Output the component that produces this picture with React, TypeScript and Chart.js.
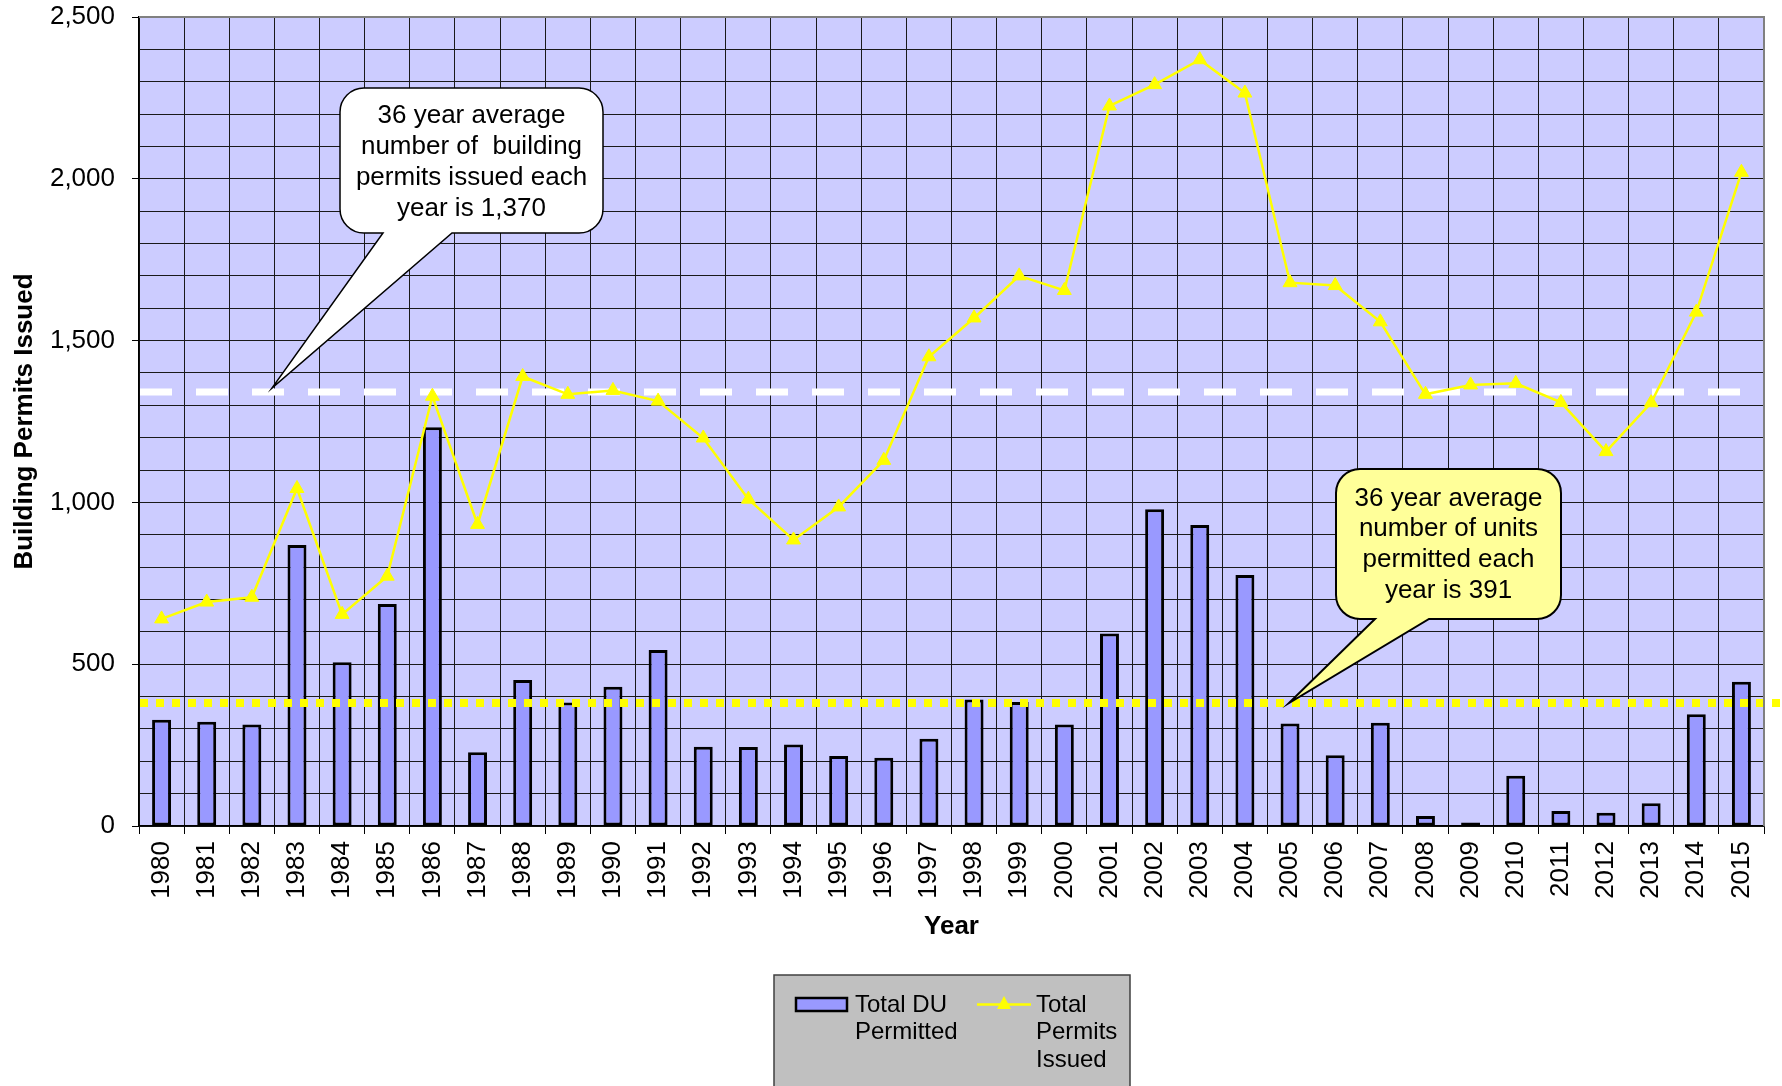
import React, { useEffect, useRef } from "react";
import { Chart, registerables } from "chart.js";

Chart.register(...registerables);

const FONT = "'Liberation Sans', Arial, Helvetica, sans-serif";

const years = [
  "1980", "1981", "1982", "1983", "1984", "1985", "1986", "1987", "1988", "1989",
  "1990", "1991", "1992", "1993", "1994", "1995", "1996", "1997", "1998", "1999",
  "2000", "2001", "2002", "2003", "2004", "2005", "2006", "2007", "2008", "2009",
  "2010", "2011", "2012", "2013", "2014", "2015",
];

const totalDUPermitted = [
  328, 322, 314, 868, 506, 686, 1232, 228, 451, 382,
  430, 544, 245, 244, 252, 216, 211, 270, 391, 383,
  314, 595, 979, 930, 776, 317, 219, 319, 31, 11,
  155, 46, 41, 70, 345, 446,
];

const totalPermitsIssued = [
  640, 692, 707, 1043, 654, 772, 1328, 932, 1389, 1334,
  1346, 1313, 1199, 1010, 884, 986, 1130, 1450, 1570, 1700,
  1655, 2225, 2291, 2368, 2265, 1679, 1670, 1558, 1334, 1363,
  1368, 1309, 1157, 1308, 1588, 2020,
];

const yTickLabels = ["0", "500", "1,000", "1,500", "2,000", "2,500"];

const permitsAverageLine = 1340;
const unitsAverageLine = 380;

const permitsCalloutText = [
  "36 year average",
  "number of  building",
  "permits issued each",
  "year is 1,370",
];
const unitsCalloutText = [
  "36 year average",
  "number of units",
  "permitted each",
  "year is 391",
];
const legendBarText = ["Total DU", "Permitted"];
const legendLineText = ["Total", "Permits", "Issued"];

function calloutPath(
  ctx: CanvasRenderingContext2D,
  x: number, y: number, w: number, h: number, r: number,
  t1: number, t2: number, tipX: number, tipY: number
) {
  ctx.beginPath();
  ctx.moveTo(x + r, y);
  ctx.lineTo(x + w - r, y);
  ctx.arcTo(x + w, y, x + w, y + r, r);
  ctx.lineTo(x + w, y + h - r);
  ctx.arcTo(x + w, y + h, x + w - r, y + h, r);
  ctx.lineTo(t2, y + h);
  ctx.lineTo(tipX, tipY);
  ctx.lineTo(t1, y + h);
  ctx.lineTo(x + r, y + h);
  ctx.arcTo(x, y + h, x, y + h - r, r);
  ctx.lineTo(x, y + r);
  ctx.arcTo(x, y, x + r, y, r);
  ctx.closePath();
}

const decorPlugin = {
  id: "decor",
  beforeDraw(chart: any) {
    const { ctx, chartArea: a } = chart;
    ctx.save();
    ctx.fillStyle = "#CCCCFF";
    ctx.fillRect(a.left, a.top, a.right - a.left, a.bottom - a.top);
    ctx.restore();
  },
  afterDatasetDraw(chart: any, args: any) {
    if (args.index !== 1) return;
    const { ctx, chartArea: a } = chart;
    const ys = chart.scales.y;
    ctx.save();
    ctx.lineCap = "butt";
    const yp = Math.round(ys.getPixelForValue(permitsAverageLine));
    ctx.setLineDash([32, 24]);
    ctx.strokeStyle = "#FFFFFF";
    ctx.lineWidth = 7;
    ctx.beginPath();
    ctx.moveTo(a.left + 1, yp);
    ctx.lineTo(chart.width, yp);
    ctx.stroke();
    const yu = Math.round(ys.getPixelForValue(unitsAverageLine));
    ctx.setLineDash([8, 8]);
    ctx.strokeStyle = "#FFFF00";
    ctx.lineWidth = 8;
    ctx.beginPath();
    ctx.moveTo(a.left + 1, yu);
    ctx.lineTo(chart.width, yu);
    ctx.stroke();
    ctx.restore();
  },
  afterDraw(chart: any) {
    const { ctx, chartArea: a } = chart;
    ctx.save();
    ctx.strokeStyle = "#808080";
    ctx.lineWidth = 2;
    ctx.beginPath();
    ctx.moveTo(a.left, a.top);
    ctx.lineTo(a.right, a.top);
    ctx.lineTo(a.right, a.bottom);
    ctx.stroke();

    calloutPath(ctx, 340, 88, 263, 145, 24, 383, 452, 272, 388);
    ctx.fillStyle = "#FFFFFF";
    ctx.fill();
    ctx.strokeStyle = "#000000";
    ctx.lineWidth = 1.5;
    ctx.stroke();
    ctx.fillStyle = "#000000";
    ctx.font = `26px ${FONT}`;
    ctx.textAlign = "center";
    ctx.textBaseline = "middle";
    const c1y = [116, 147, 178, 209];
    permitsCalloutText.forEach((t, i) => ctx.fillText(t, 471.5, c1y[i]));

    calloutPath(ctx, 1336, 469, 225, 150, 24, 1375, 1429, 1289, 703);
    ctx.fillStyle = "#FFFF99";
    ctx.fill();
    ctx.strokeStyle = "#000000";
    ctx.lineWidth = 2;
    ctx.stroke();
    ctx.fillStyle = "#000000";
    const c2y = [499, 529, 560, 591];
    unitsCalloutText.forEach((t, i) => ctx.fillText(t, 1448.5, c2y[i]));

    ctx.fillStyle = "#C0C0C0";
    ctx.fillRect(774, 975, 356, 120);
    ctx.strokeStyle = "#404040";
    ctx.lineWidth = 1.5;
    ctx.strokeRect(774, 975, 356, 120);
    ctx.fillStyle = "#9999FF";
    ctx.fillRect(796, 998, 51, 13);
    ctx.strokeStyle = "#000000";
    ctx.lineWidth = 2.5;
    ctx.strokeRect(796, 998, 51, 13);
    ctx.strokeStyle = "#FFFF00";
    ctx.lineWidth = 2.5;
    ctx.beginPath();
    ctx.moveTo(977, 1004.5);
    ctx.lineTo(1031, 1004.5);
    ctx.stroke();
    ctx.fillStyle = "#FFFF00";
    ctx.beginPath();
    ctx.moveTo(1004, 996);
    ctx.lineTo(1011, 1009);
    ctx.lineTo(997, 1009);
    ctx.closePath();
    ctx.fill();
    ctx.fillStyle = "#000000";
    ctx.font = `24px ${FONT}`;
    ctx.textAlign = "left";
    ctx.textBaseline = "middle";
    const ly = [1005, 1032, 1060];
    legendBarText.forEach((t, i) => ctx.fillText(t, 855, ly[i]));
    legendLineText.forEach((t, i) => ctx.fillText(t, 1036, ly[i]));
    ctx.restore();
  },
};

export default function App() {
  const ref = useRef<HTMLCanvasElement | null>(null);
  useEffect(() => {
    if (!ref.current) return;
    Chart.defaults.font.family = FONT;
    Chart.defaults.color = "#000000";
    const chart = new Chart(ref.current, {
      type: "bar",
      data: {
        labels: years,
        datasets: [
          {
            type: "line",
            label: "Total Permits Issued",
            data: totalPermitsIssued,
            order: 0,
            borderColor: "#FFFF00",
            backgroundColor: "#FFFF00",
            borderWidth: 2.5,
            pointStyle: "triangle",
            pointRadius: 8,
            pointBorderWidth: 1,
            pointBackgroundColor: "#FFFF00",
            pointBorderColor: "#FFFF00",
            tension: 0,
          } as any,
          {
            type: "bar",
            label: "Total DU Permitted",
            data: totalDUPermitted,
            order: 1,
            backgroundColor: "#9999FF",
            borderColor: "#000000",
            borderWidth: 3,
            borderSkipped: false,
            barPercentage: 0.42,
            categoryPercentage: 1,
          } as any,
        ],
      },
      options: {
        responsive: false,
        animation: false,
        devicePixelRatio: 1,
        layout: { padding: { top: 17, right: 18, bottom: 0, left: 0 } },
        plugins: {
          legend: { display: false },
          tooltip: { enabled: false },
        },
        scales: {
          x: {
            type: "category",
            offset: true,
            afterFit: (s: any) => {
              s.height = 260;
            },
            grid: {
              offset: true,
              color: "#1a1a1a",
              lineWidth: 1,
              tickColor: "#000000",
              tickLength: 8,
              drawTicks: true,
            },
            border: { display: true, color: "#000000", width: 1.5 },
            ticks: {
              autoSkip: false,
              minRotation: 90,
              maxRotation: 90,
              padding: 7,
              color: "#000000",
              font: { size: 26, family: FONT },
            },
            title: {
              display: true,
              text: "Year",
              color: "#000000",
              font: { size: 26, weight: "bold", family: FONT },
              padding: { top: 0, bottom: 144 },
            },
          },
          y: {
            type: "linear",
            min: 0,
            max: 2500,
            afterFit: (s: any) => {
              s.width = 139;
              s.paddingTop = 0;
              s.paddingBottom = 0;
            },
            grid: {
              color: (c: any) =>
                c.tick && c.tick.value === 2500 ? "rgba(0,0,0,0)" : "#1a1a1a",
              lineWidth: 1,
              tickColor: (c: any) =>
                c.tick && c.tick.value % 500 === 0 ? "#000000" : "rgba(0,0,0,0)",
              tickLength: 7,
            },
            border: { display: true, color: "#000000", width: 1.5 },
            ticks: {
              stepSize: 100,
              maxTicksLimit: 100,
              autoSkip: false,
              padding: 17,
              color: "#000000",
              font: { size: 26, family: FONT },
              callback: (v: any) =>
                Number(v) % 500 === 0 ? yTickLabels[Number(v) / 500] : "",
            },
            title: {
              display: true,
              text: "Building Permits Issued",
              color: "#000000",
              font: { size: 26, weight: "bold", family: FONT },
              padding: { top: 9, bottom: 0 },
            },
          },
        },
      } as any,
      plugins: [decorPlugin],
    });
    return () => chart.destroy();
  }, []);

  return (
    <div style={{ position: "absolute", left: 0, top: 0, width: 1782, height: 1086, background: "#FFFFFF" }}>
      <canvas ref={ref} width={1782} height={1086} style={{ display: "block", width: 1782, height: 1086 }} />
    </div>
  );
}
